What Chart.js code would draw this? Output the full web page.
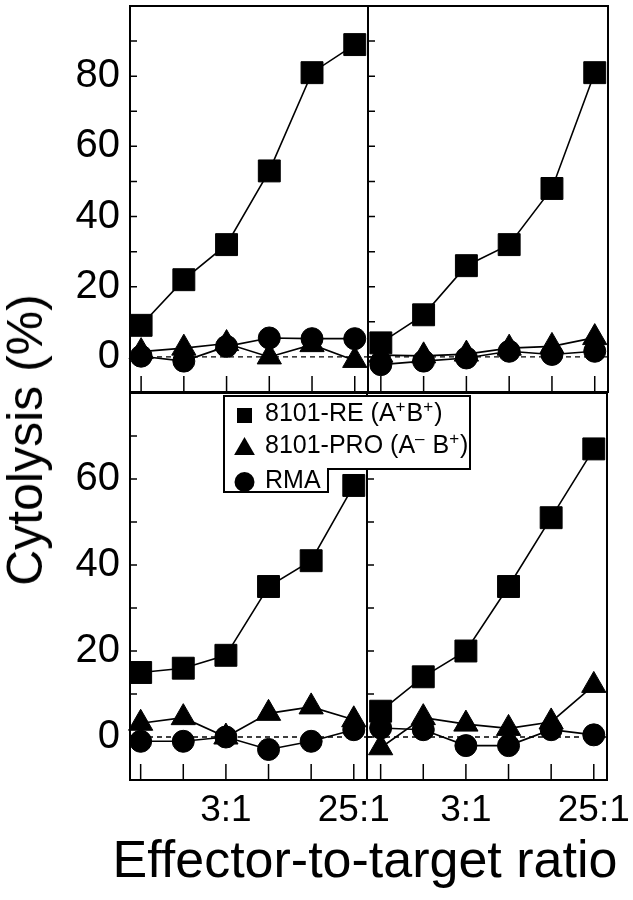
<!DOCTYPE html>
<html lang="en">
<head>
  <meta charset="UTF-8">
  <title>Cytolysis</title>
  <script src="https://cdn.jsdelivr.net/npm/chart.js"></script>
  <style>
    body { margin: 0; background: #fff; }
    #wrap { position: relative; width: 633px; height: 900px; overflow: hidden; background: #fff; }
    #wrap canvas { position: absolute; left: 0; top: 0; }
    .title { position: absolute; font-family: 'Liberation Sans', Arial, Helvetica, sans-serif; color: #000; white-space: nowrap; line-height: 1; }
    #ytitle { left: 25px; top: 440px; font-size: 50px; transform: translate(-50%, -50%) rotate(-90deg); }
    #xtitle { left: 365px; top: 833px; font-size: 52px; transform: translateX(-50%); }
  </style>
</head>
<body>
  <div id="wrap">
    <canvas id="tl" width="633" height="900"></canvas>
    <canvas id="tr" width="633" height="900"></canvas>
    <canvas id="br" width="633" height="900"></canvas>
    <canvas id="bl" width="633" height="900"></canvas>
    <div class="title" id="ytitle">Cytolysis (%)</div>
    <div class="title" id="xtitle">Effector-to-target ratio</div>
  </div>

  <script>
    const ratios = ['0.8:1', '1.6:1', '3:1', '6:1', '12:1', '25:1'];
    const shownRatios = ['3:1', '25:1'];
    const seriesNames = ['8101-RE (A+B+)', '8101-PRO (A- B+)', 'RMA'];
    const yLabelsTop = [0, 20, 40, 60, 80];
    const yLabelsBottom = [0, 20, 40, 60];

    // top left
    const reTL = [9, 22, 32, 53, 81, 89];
    const proTL = [1.5, 2.5, 3.8, 0, 3.5, -1];
    const rmaTL = [0.2, -1.2, 3, 5.4, 5.2, 5.2];
    // top right
    const reTR = [4, 12, 26, 32, 48, 81];
    const proTR = [0.5, 0.3, 0.8, 2.5, 3, 5.5];
    const rmaTR = [-2.2, -1.2, -0.3, 1.6, 0.7, 1.6];
    // bottom left
    const reBL = [15, 16, 19, 35, 41, 58.5];
    const proBL = [3.2, 4.5, 0, 5.5, 7, 4];
    const rmaBL = [-1, -1, 0, -2.9, -1, 1.7];
    // bottom right
    const reBR = [6, 14, 20, 35, 51, 67];
    const proBR = [-2.5, 4.5, 3, 2, 3.5, 12];
    const rmaBR = [2.1, 1.7, -2, -2, 1.7, 0.5];

    const FONT = "'Liberation Sans', Arial, Helvetica, sans-serif";
    Chart.defaults.font.family = FONT;
    Chart.defaults.color = '#000';

    const pts = arr => arr.map((y, i) => ({x: i, y: y}));

    const markers = [
      {pointStyle: 'rect', pointRadius: 15.5},
      {pointStyle: 'triangle', pointRadius: 14},
      {pointStyle: 'circle', pointRadius: 11}
    ];

    // frame, inward ticks and dashed zero line for each panel
    const framePlugin = {
      id: 'frame',
      beforeDatasetsDraw(chart) {
        const {ctx, chartArea: a, scales: {x, y}} = chart;
        ctx.save();
        ctx.strokeStyle = '#000';

        ctx.lineWidth = 1.4;
        ctx.setLineDash([5, 4]);
        const y0 = y.getPixelForValue(0);
        ctx.beginPath();
        ctx.moveTo(a.left, y0);
        ctx.lineTo(a.right, y0);
        ctx.stroke();
        ctx.setLineDash([]);

        ctx.lineWidth = 1.5;
        ctx.beginPath();
        for (let v = y.min + 10; v < y.max; v += 10) {
          const py = y.getPixelForValue(v);
          ctx.moveTo(a.left, py);
          ctx.lineTo(a.left + 7, py);
        }
        ratios.forEach((r, i) => {
          const px = x.getPixelForValue(i);
          ctx.moveTo(px, a.bottom);
          ctx.lineTo(px, a.bottom - 16);
        });
        ctx.stroke();

        ctx.lineWidth = 2;
        ctx.strokeRect(a.left, a.top, a.right - a.left, a.bottom - a.top);
        ctx.restore();
      }
    };

    function drawLabel(ctx, text, x, y) {
      // superscript the + / - that follow A or B
      const parts = text.split(/((?<=[AB])[+\-])/).filter(s => s !== '');
      let cx = x;
      parts.forEach((p, k) => {
        const sup = /^[+\-]$/.test(p) && k > 0 && /[AB]$/.test(parts[k - 1]);
        const t = sup && p === '-' ? '\u2013' : p;
        ctx.font = sup ? '17px ' + FONT : '25px ' + FONT;
        ctx.fillText(t, cx, sup ? y - 9 : y);
        cx += ctx.measureText(t).width + (sup ? 1 : 0);
      });
    }

    const legendPlugin = {
      id: 'panelLegend',
      afterDraw(chart) {
        const {ctx, chartArea: a} = chart;
        const L = a.left + 94, T = a.top + 3;
        ctx.save();
        ctx.beginPath();
        ctx.moveTo(L, T);
        ctx.lineTo(L + 246, T);
        ctx.lineTo(L + 246, T + 73);
        ctx.lineTo(L + 104, T + 73);
        ctx.lineTo(L + 104, T + 96);
        ctx.lineTo(L, T + 96);
        ctx.closePath();
        ctx.fillStyle = '#fff';
        ctx.fill();
        ctx.lineWidth = 2;
        ctx.strokeStyle = '#000';
        ctx.stroke();

        ctx.fillStyle = '#000';
        const rows = [
          {style: 'rect', r: 10.6, cy: T + 19.5},
          {style: 'triangle', r: 12, cy: T + 53},
          {style: 'circle', r: 10, cy: T + 86}
        ];
        const baselines = [T + 27, T + 59, T + 94];
        rows.forEach((m, i) => {
          Chart.helpers.drawPoint(ctx, {pointStyle: m.style, radius: m.r, rotation: 0, borderWidth: 0}, L + 20.5, m.cy);
          ctx.textBaseline = 'alphabetic';
          drawLabel(ctx, seriesNames[i], L + 41, baselines[i] - 2);
        });
        ctx.restore();
      }
    };

    // keep the panel rectangle exactly where the padding puts it
    const noOverflow = s => { s.paddingLeft = s.paddingRight = s.paddingTop = s.paddingBottom = 0; };

    function makePanel(id, cfg) {
      const sets = [cfg.re, cfg.pro, cfg.rma].map((arr, i) => ({
        label: seriesNames[i],
        data: pts(arr),
        borderColor: '#000',
        borderWidth: 1.6,
        backgroundColor: '#000',
        pointBackgroundColor: '#000',
        pointBorderColor: '#000',
        pointBorderWidth: 1,
        pointStyle: markers[i].pointStyle,
        pointRadius: markers[i].pointRadius,
        tension: 0,
        fill: false,
        clip: false
      }));

      const xScale = {
        type: 'linear',
        min: cfg.xMin,
        max: 5.31,
        display: cfg.showX,
        grid: {display: false, drawTicks: false},
        border: {display: false},
        afterBuildTicks: s => { s.ticks = ratios.map((r, i) => ({value: i})); },
        afterFit: s => { if (cfg.showX) s.height = 60; noOverflow(s); },
        ticks: {
          autoSkip: false,
          maxRotation: 0,
          padding: 9,
          color: '#000',
          font: {size: 37},
          callback: v => shownRatios.includes(ratios[v]) ? ratios[v] : ''
        }
      };

      const yScale = {
        type: 'linear',
        min: -10,
        max: cfg.yMax,
        display: cfg.showY,
        grid: {display: false, drawTicks: false},
        border: {display: false},
        afterBuildTicks: s => { s.ticks = cfg.yLabels.map(v => ({value: v})); },
        afterFit: s => { if (cfg.showY) s.width = 130; noOverflow(s); },
        ticks: {autoSkip: false, padding: 10, color: '#000', font: {size: 40}}
      };

      return new Chart(document.getElementById(id), {
        type: 'line',
        data: {datasets: sets},
        options: {
          responsive: false,
          animation: false,
          devicePixelRatio: 1,
          layout: {padding: cfg.padding, autoPadding: false},
          plugins: {legend: {display: false}, tooltip: {enabled: false}},
          scales: {x: xScale, y: yScale}
        },
        plugins: cfg.legend ? [framePlugin, legendPlugin] : [framePlugin]
      });
    }

    makePanel('tl', {re: reTL, pro: proTL, rma: rmaTL, yMax: 100, yLabels: yLabelsTop, xMin: -0.26,
      showX: false, showY: true, padding: {left: 0, top: 6, right: 265, bottom: 508}});
    makePanel('tr', {re: reTR, pro: proTR, rma: rmaTR, yMax: 100, yLabels: yLabelsTop, xMin: -0.3,
      showX: false, showY: false, padding: {left: 368, top: 6, right: 25, bottom: 508}});
    makePanel('br', {re: reBR, pro: proBR, rma: rmaBR, yMax: 80, yLabels: yLabelsBottom, xMin: -0.32,
      showX: true, showY: false, padding: {left: 367, top: 393, right: 26, bottom: 60}});
    makePanel('bl', {re: reBL, pro: proBL, rma: rmaBL, yMax: 80, yLabels: yLabelsBottom, xMin: -0.25,
      showX: true, showY: true, padding: {left: 0, top: 393, right: 266, bottom: 60}, legend: true});
  </script>
</body>
</html>
